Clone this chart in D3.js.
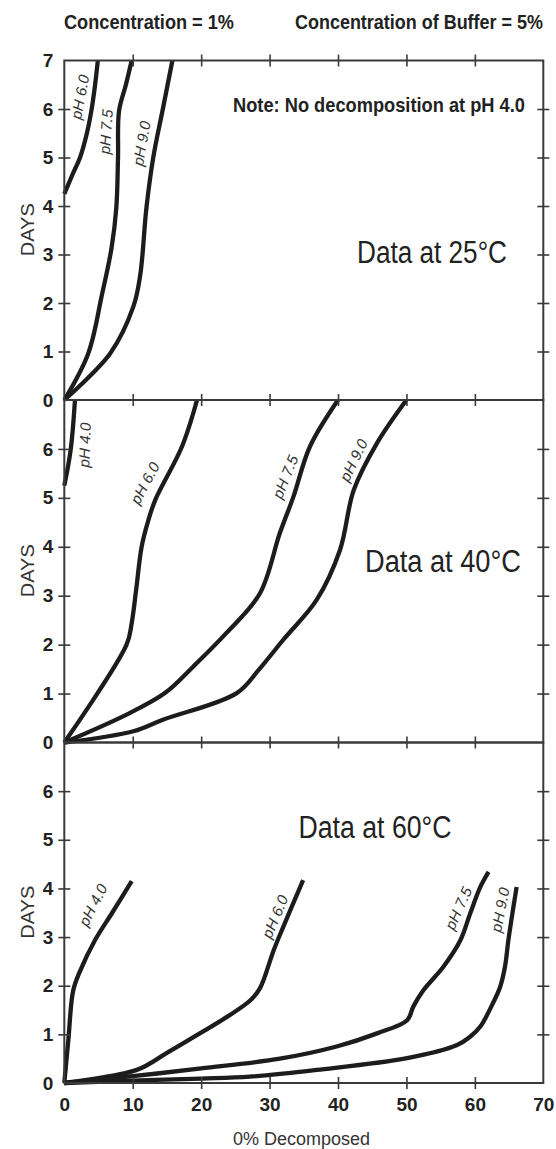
<!DOCTYPE html>
<html>
<head>
<meta charset="utf-8">
<script src="https://cdn.jsdelivr.net/npm/d3@7/dist/d3.min.js"></script>
<style>
  html, body { margin: 0; padding: 0; background: #fff; }
  svg { display: block; font-family: "Liberation Sans", Arial, Helvetica, sans-serif; }
</style>
</head>
<body>
<svg id="chart" width="556" height="1149"></svg>
<script>
// ---- data: [% decomposed, days] ----
const xTicks = [0, 10, 20, 30, 40, 50, 60, 70];
const dayTicks = [0, 1, 2, 3, 4, 5, 6, 7];
const panelTitles = ["Data at 25°C", "Data at 40°C", "Data at 60°C"];
const seriesNames = ["pH 4.0", "pH 6.0", "pH 7.5", "pH 9.0"];

// 25 °C (no decomposition at pH 4.0)
const t25_pH60 = [[0, 4.25], [1.2, 4.65], [2.3, 5.0], [3.3, 5.5], [4.0, 6.0], [4.5, 6.5], [4.9, 7.0]];
const t25_pH75 = [[0, 0], [3.5, 0.96], [5.5, 2.17], [6.9, 3.13], [7.6, 3.96], [7.85, 5.0], [8.0, 5.96], [9.0, 6.5], [9.85, 7.0]];
const t25_pH90 = [[0, 0], [6.7, 0.96], [10.1, 1.93], [11.1, 2.58], [12.0, 3.96], [13.0, 5.0], [14.4, 6.0], [15.8, 7.0]];

// 40 °C
const t40_pH40 = [[0, 5.25], [0.93, 5.98], [1.56, 7.0]];
const t40_pH60 = [[0, 0], [9.1, 2.0], [9.85, 2.44], [10.5, 3.12], [11.3, 4.0], [12.3, 4.55], [13.3, 4.96], [17.2, 6.05], [19.4, 7.0]];
const t40_pH75 = [[0, 0], [9.1, 0.57], [14.7, 1.01], [18.9, 1.56], [23.7, 2.24], [28.6, 3.05], [31.5, 4.28], [33.5, 5.03], [35.9, 6.05], [40.0, 7.0]];
const t40_pH90 = [[0, 0], [10.1, 0.23], [14.5, 0.47], [25.2, 1.01], [28.5, 1.5], [32.0, 2.1], [36.9, 2.92], [40.3, 3.94], [42.3, 5.16], [45.7, 6.12], [50.0, 7.0]];

// 60 °C
const t60_pH40 = [[0, 0], [0.6, 0.9], [1.3, 1.9], [2.3, 2.3], [4.5, 2.94], [7.0, 3.5], [9.85, 4.15]];
const t60_pH60 = [[0, 0], [10.6, 0.27], [15.0, 0.62], [19.8, 1.02], [24.0, 1.38], [27.2, 1.7], [28.6, 1.95], [30.6, 2.73], [32.0, 3.21], [34.9, 4.17]];
const t60_pH75 = [[0, 0], [10, 0.14], [20, 0.3], [31.5, 0.5], [39.8, 0.75], [45.7, 1.02], [50.1, 1.29], [51.0, 1.57], [52.5, 1.91], [55.4, 2.39], [57.9, 2.94], [59.3, 3.48], [60.8, 4.03], [62.0, 4.34]];
const t60_pH90 = [[0, 0], [10, 0.05], [20, 0.09], [27.1, 0.13], [36.9, 0.27], [50.1, 0.51], [57.4, 0.78], [59.3, 0.95], [60.8, 1.16], [62.5, 1.6], [63.7, 1.98], [64.4, 2.39], [64.9, 2.94], [65.5, 3.5], [66.1, 4.03]];

// ---- layout ----
const svg = d3.select("#chart");
const left = 64.3, right = 543.3;
const panelBounds = [[60.5, 400], [400, 742.5], [742.5, 1083]];
const ink = "#1c1c1c", axisInk = "#3a3a3a";

const x = d3.scaleLinear().domain([0, 70]).range([left, right]);

// label placement per curve: [series, x, days, angle]
const panels = [
  { title: panelTitles[0], titlePos: [357, 263.3, 150],
    curves: [t25_pH60, t25_pH75, t25_pH90],
    labels: [[seriesNames[1], 2.3, 6.25, -79], [seriesNames[2], 6.1, 5.53, -86], [seriesNames[3], 11.3, 5.29, -80]] },
  { title: panelTitles[1], titlePos: [365, 571.7, 156],
    curves: [t40_pH40, t40_pH60, t40_pH75, t40_pH90],
    labels: [[seriesNames[0], 3.0, 6.08, -88], [seriesNames[1], 11.8, 5.3, -62], [seriesNames[2], 32.3, 5.43, -68], [seriesNames[3], 42.3, 5.77, -64]] },
  { title: panelTitles[2], titlePos: [298.5, 838.3, 153],
    curves: [t60_pH40, t60_pH60, t60_pH75, t60_pH90],
    labels: [[seriesNames[0], 4.2, 3.66, -63], [seriesNames[1], 30.8, 3.42, -67], [seriesNames[2], 57.6, 3.59, -66], [seriesNames[3], 63.7, 3.56, -79]] }
];

// condensed bold heading text: narrow width, stretched vertically
function heading(px, py, width, str) {
  svg.append("text")
    .attr("transform", `translate(${px},${py}) scale(1,1.18)`)
    .attr("font-size", 17).attr("font-weight", "bold").attr("fill", "#222")
    .attr("textLength", width).attr("lengthAdjust", "spacingAndGlyphs")
    .text(str);
}
heading(64, 28.5, 170, "Concentration = 1%");
heading(295, 28.5, 248, "Concentration of Buffer = 5%");

panels.forEach((p, i) => {
  const [top, bottom] = panelBounds[i];
  const y = d3.scaleLinear().domain([0, 7]).range([bottom, top]);
  const g = svg.append("g");

  // curves
  const line = d3.line().x(d => x(d[0])).y(d => y(d[1])).curve(d3.curveCatmullRom.alpha(0.5));
  g.selectAll("path.curve").data(p.curves).join("path")
    .attr("class", "curve")
    .attr("d", line)
    .attr("fill", "none").attr("stroke", ink)
    .attr("stroke-width", 4.3).attr("stroke-linejoin", "round").attr("stroke-linecap", "butt");

  // frame
  g.append("rect").attr("x", left).attr("y", top)
    .attr("width", right - left).attr("height", bottom - top)
    .attr("fill", "none").attr("stroke", axisInk).attr("stroke-width", 2);

  // left axis (labels + crossing ticks)
  const leftVals = i === 0 ? dayTicks : dayTicks.slice(0, 7);
  const ax = g.append("g").attr("transform", `translate(${left},0)`)
    .call(d3.axisLeft(y).tickValues(leftVals).tickSize(6).tickPadding(5).tickFormat(d3.format("d")));
  ax.select(".domain").remove();
  ax.selectAll(".tick line").attr("x1", d => (d === 0 || d === 7) ? 0 : 6)
    .attr("x2", d => (d === 0 || d === 7) ? 0 : -6)
    .attr("stroke", axisInk).attr("stroke-width", 1.6);
  ax.selectAll(".tick text").attr("font-size", 19).attr("font-weight", "bold")
    .attr("fill", "#222").attr("font-family", "Liberation Sans, Arial, sans-serif");

  // right axis ticks
  const ar = g.append("g").attr("transform", `translate(${right},0)`)
    .call(d3.axisRight(y).tickValues(dayTicks.slice(1, 7)).tickSize(6).tickFormat(""));
  ar.select(".domain").remove();
  ar.selectAll(".tick line").attr("x1", -6).attr("stroke", axisInk).attr("stroke-width", 1.6);

  // top-edge ticks
  const at = g.append("g").attr("transform", `translate(0,${top})`)
    .call(d3.axisTop(x).tickValues(xTicks.slice(1, 7)).tickSize(6).tickFormat(""));
  at.select(".domain").remove();
  at.selectAll(".tick line").attr("y1", 6).attr("stroke", axisInk).attr("stroke-width", 1.6);

  // DAYS
  g.append("text")
    .attr("transform", `translate(33.5,${(top + bottom) / 2 + 26}) rotate(-90)`)
    .attr("font-size", 18).attr("fill", "#333")
    .attr("textLength", 53).attr("lengthAdjust", "spacingAndGlyphs")
    .text("DAYS");

  // panel title
  g.append("text").attr("x", p.titlePos[0]).attr("y", p.titlePos[1])
    .attr("font-size", 31).attr("fill", "#222")
    .attr("textLength", p.titlePos[2]).attr("lengthAdjust", "spacingAndGlyphs")
    .text(p.title);

  // curve labels
  g.selectAll("text.ph").data(p.labels).join("text")
    .attr("class", "ph")
    .attr("transform", d => `translate(${x(d[1])},${y(d[2])}) rotate(${d[3]})`)
    .attr("text-anchor", "middle").attr("dy", "0.35em")
    .attr("font-size", 15).attr("font-style", "italic").attr("fill", "#333")
    .attr("textLength", 45).attr("lengthAdjust", "spacingAndGlyphs")
    .text(d => d[0]);

  // bottom axis on last panel
  if (i === 2) {
    const ab = g.append("g").attr("transform", `translate(0,${bottom})`)
      .call(d3.axisBottom(x).tickValues(xTicks).tickSize(6).tickPadding(9).tickFormat(d3.format("d")));
    ab.select(".domain").remove();
    ab.selectAll(".tick line").attr("y1", d => (d === 0 || d === 70) ? 0 : -6)
      .attr("y2", d => (d === 0 || d === 70) ? 0 : 6)
      .attr("stroke", axisInk).attr("stroke-width", 1.6);
    ab.selectAll(".tick text").attr("font-size", 19).attr("font-weight", "bold")
      .attr("fill", "#222").attr("font-family", "Liberation Sans, Arial, sans-serif");
  }
});

// note in the first panel
heading(233, 111.5, 292, "Note: No decomposition at pH 4.0");

// x-axis title
svg.append("text").attr("x", 233).attr("y", 1145)
  .attr("font-size", 18).attr("fill", "#333")
  .text("0% Decomposed");
</script>
</body>
</html>
